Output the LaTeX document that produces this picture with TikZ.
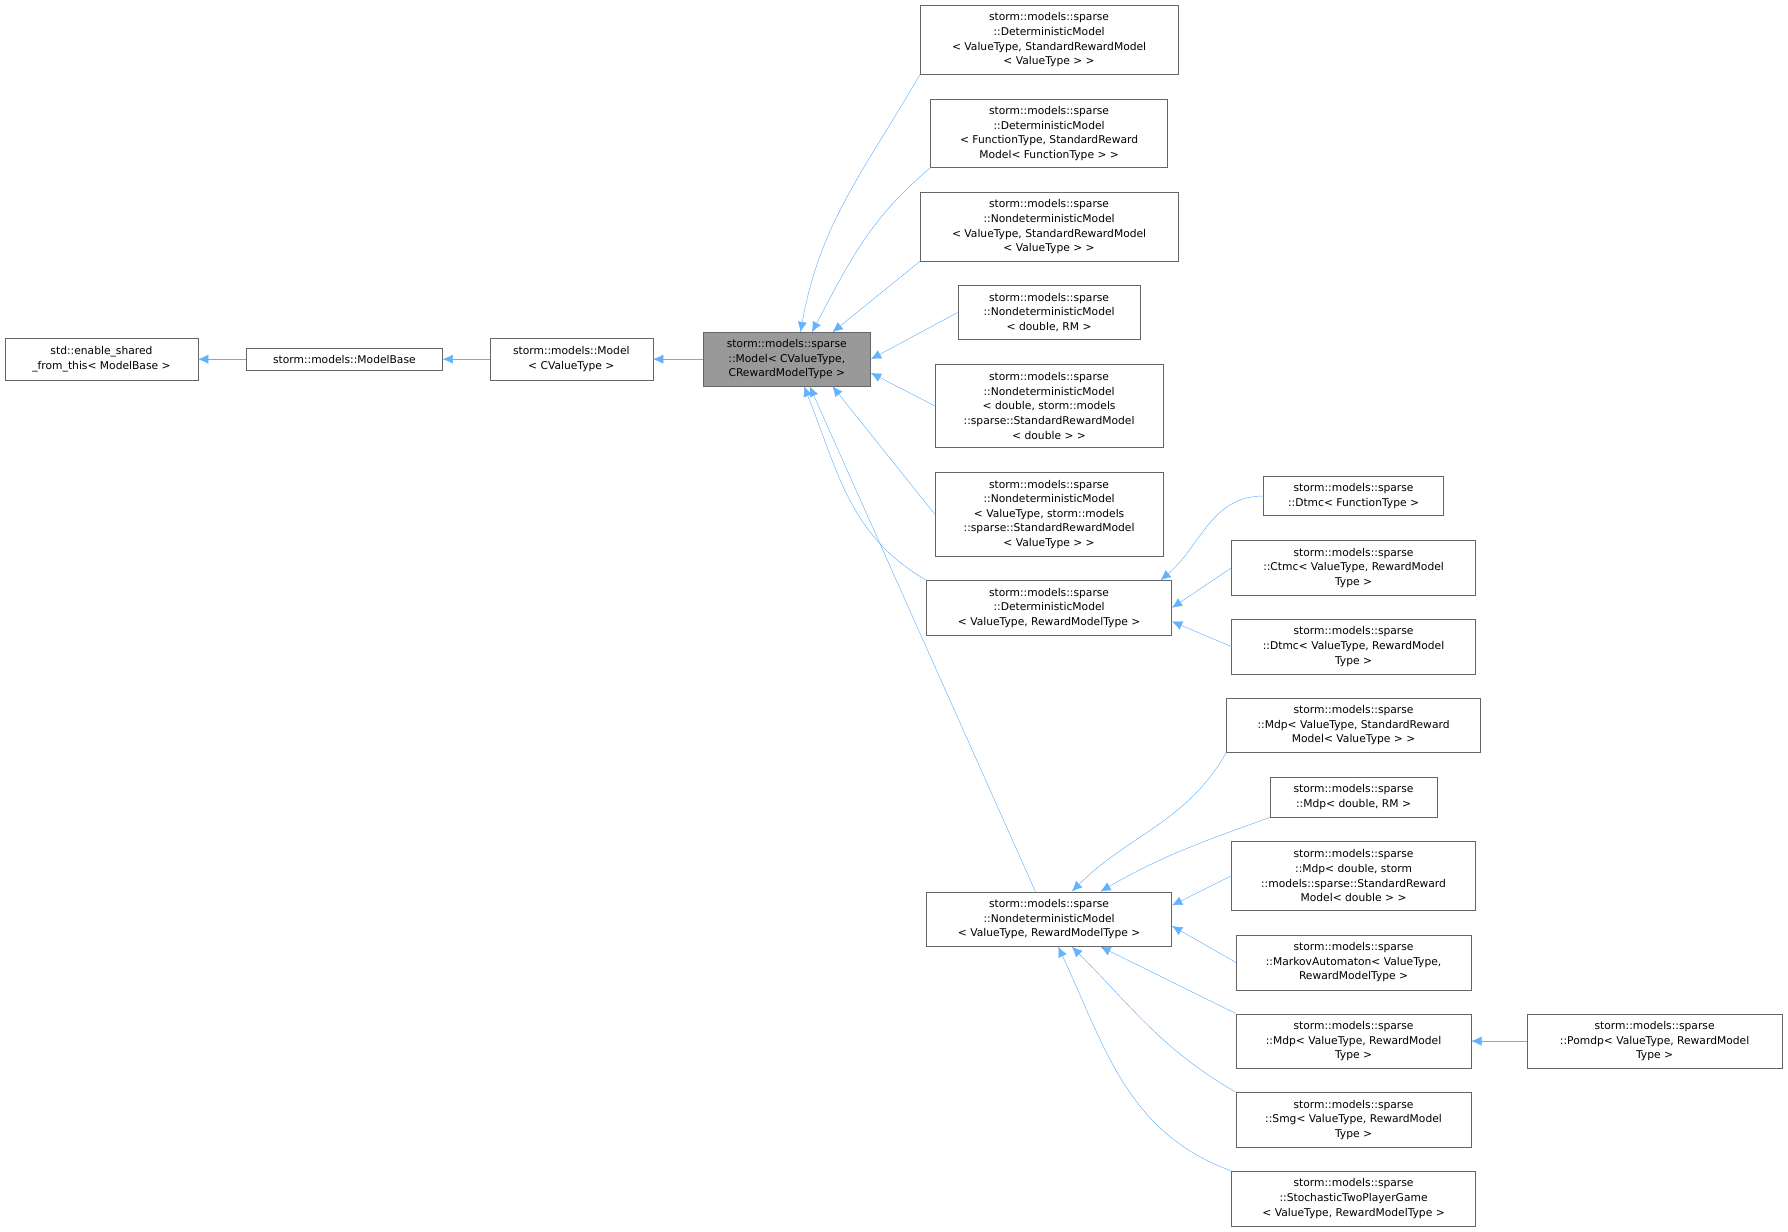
\documentclass[tikz,border=0pt]{standalone}
\usepackage{fontspec}
\setmainfont{DejaVu Sans}
\definecolor{edgeblue}{RGB}{99,178,255}
\definecolor{boxline}{RGB}{102,102,102}
\tikzset{
  cls/.style={rectangle,draw=boxline,fill=white,align=center,font=\fontsize{9.4}{12.8}\selectfont,inner sep=3pt},
  inh/.style={draw=edgeblue,{Latex[length=9pt,width=8pt]}-}
}
\usetikzlibrary{arrows.meta}
\begin{document}
\begin{tikzpicture}[x=1pt,y=-1pt]
\useasboundingbox (0,0) rectangle (1568,1080);
\node[cls,minimum width=169,minimum height=37] (esft) at (89,315) {std::enable\_shared\\\_from\_this< ModelBase >};
\node[cls,minimum width=172,minimum height=19] (base) at (302,315) {storm::models::ModelBase};
\node[cls,minimum width=143,minimum height=37] (model) at (501,315) {storm::models::Model\\< CValueType >};
\node[cls,fill=gray!80,minimum width=147,minimum height=47] (smodel) at (690,315) {storm::models::sparse\\::Model< CValueType,\\CRewardModelType >};
\node[cls,minimum width=226,minimum height=60] (dmA) at (920,35) {storm::models::sparse\\::DeterministicModel\\< ValueType, StandardRewardModel\\< ValueType > >};
\node[cls,minimum width=208,minimum height=60] (dmB) at (920,117) {storm::models::sparse\\::DeterministicModel\\< FunctionType, StandardReward\\Model< FunctionType > >};
\node[cls,minimum width=226,minimum height=60] (ndA) at (920,199) {storm::models::sparse\\::NondeterministicModel\\< ValueType, StandardRewardModel\\< ValueType > >};
\node[cls,minimum width=160,minimum height=47] (ndB) at (920,274) {storm::models::sparse\\::NondeterministicModel\\< double, RM >};
\node[cls,minimum width=200,minimum height=73] (ndC) at (920,356) {storm::models::sparse\\::NondeterministicModel\\< double, storm::models\\::sparse::StandardRewardModel\\< double > >};
\node[cls,minimum width=200,minimum height=73] (ndD) at (920,451) {storm::models::sparse\\::NondeterministicModel\\< ValueType, storm::models\\::sparse::StandardRewardModel\\< ValueType > >};
\node[cls,minimum width=215,minimum height=48] (dm) at (920,533) {storm::models::sparse\\::DeterministicModel\\< ValueType, RewardModelType >};
\node[cls,minimum width=215,minimum height=48] (nd) at (920,806) {storm::models::sparse\\::NondeterministicModel\\< ValueType, RewardModelType >};
\node[cls,minimum width=158,minimum height=34] (dtmcF) at (1187,435) {storm::models::sparse\\::Dtmc< FunctionType >};
\node[cls,minimum width=214,minimum height=48] (ctmc) at (1187,498) {storm::models::sparse\\::Ctmc< ValueType, RewardModel\\Type >};
\node[cls,minimum width=214,minimum height=48] (dtmc) at (1187,567) {storm::models::sparse\\::Dtmc< ValueType, RewardModel\\Type >};
\node[cls,minimum width=223,minimum height=48] (mdpA) at (1187,636) {storm::models::sparse\\::Mdp< ValueType, StandardReward\\Model< ValueType > >};
\node[cls,minimum width=146,minimum height=35] (mdpB) at (1187,699) {storm::models::sparse\\::Mdp< double, RM >};
\node[cls,minimum width=214,minimum height=60] (mdpC) at (1187,768) {storm::models::sparse\\::Mdp< double, storm\\::models::sparse::StandardReward\\Model< double > >};
\node[cls,minimum width=206,minimum height=48] (ma) at (1187,844) {storm::models::sparse\\::MarkovAutomaton< ValueType,\\RewardModelType >};
\node[cls,minimum width=206,minimum height=48] (mdp) at (1187,913) {storm::models::sparse\\::Mdp< ValueType, RewardModel\\Type >};
\node[cls,minimum width=206,minimum height=48] (smg) at (1187,982) {storm::models::sparse\\::Smg< ValueType, RewardModel\\Type >};
\node[cls,minimum width=214,minimum height=48] (stpg) at (1187,1051) {storm::models::sparse\\::StochasticTwoPlayerGame\\< ValueType, RewardModelType >};
\node[cls,minimum width=223,minimum height=48] (pomdp) at (1451,913) {storm::models::sparse\\::Pomdp< ValueType, RewardModel\\Type >};
\draw[inh] (esft) -- (base);
\draw[inh] (base) -- (model);
\draw[inh] (model) -- (smodel);
\draw[inh] ([xshift=12]smodel.north) to[out=80,in=-120] (dmA.south west);
\draw[inh] ([xshift=22]smodel.north) to[out=62,in=-140] (dmB.south west);
\draw[inh] ([xshift=40]smodel.north) -- (ndA.south west);
\draw[inh] (smodel.east) -- (ndB.west);
\draw[inh] ([yshift=-12]smodel.east) -- (ndC.west);
\draw[inh] ([xshift=40]smodel.south) -- (ndD.west);
\draw[inh] ([xshift=15]smodel.south) to[out=-68,in=150] (dm.north west);
\draw[inh] ([xshift=20]smodel.south) -- ([xshift=-12]nd.north);
\draw[inh] ([xshift=-10]dm.north east) to[out=40,in=180] (dtmcF.west);
\draw[inh] (dm.east) -- (ctmc.west);
\draw[inh] ([yshift=-12]dm.east) -- (dtmc.west);
\draw[inh] ([xshift=20]nd.north) to[out=45,in=-120] (mdpA.south west);
\draw[inh] ([xshift=45]nd.north) to[out=30,in=-160] (mdpB.south west);
\draw[inh] ([yshift=12]nd.east) -- (mdpC.west);
\draw[inh] ([yshift=-6]nd.east) -- (ma.west);
\draw[inh] ([xshift=45]nd.south) -- (mdp.north west);
\draw[inh] ([xshift=20]nd.south) to[out=-45,in=150] (smg.north west);
\draw[inh] ([xshift=8]nd.south) to[out=-65,in=160] (stpg.north west);
\draw[inh] (mdp) -- (pomdp);
\end{tikzpicture}
\end{document}
